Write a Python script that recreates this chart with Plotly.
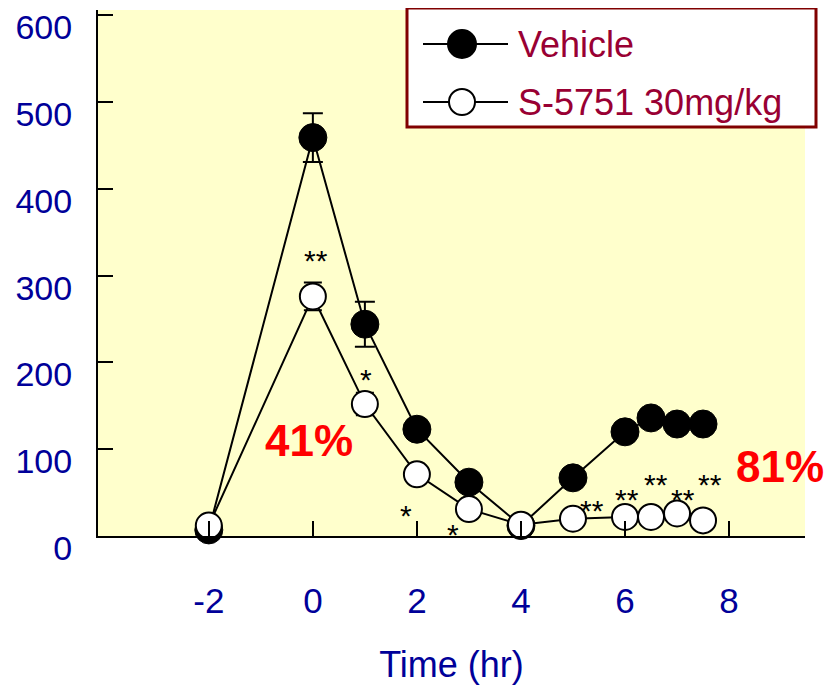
import plotly.graph_objects as go

# ---- data ----
time_hr = [-2, 0, 1, 2, 3, 4, 5, 6, 6.5, 7, 7.5]
vehicle = [7, 459, 244, 123, 62, 12, 67, 120, 136, 129, 129]
vehicle_err = [4, 28, 26, 8, 8, 4, 8, 8, 8, 8, 8]
s5751 = [12, 276, 152, 71, 31, 13, 20, 22, 22, 26, 18]
s5751_err = [3, 16, 13, 6, 5, 3, 4, 4, 4, 4, 4]

star_x = [0.06, 1.02, 1.79, 2.69, 5.37, 6.04, 6.6, 7.12, 7.63]
star_y = [326, 188, 32, 10, 37, 50, 67, 50, 67]
star_txt = ['**', '*', '*', '*', '**', '**', '**', '**', '**']

pct_x = [-0.08, 8.98]
pct_y = [110, 80]
pct_txt = ['41%', '81%']

xticks = [-2, 0, 2, 4, 6, 8]
yticks = [0, 100, 200, 300, 400, 500, 600]

FONT = 'Arial, Liberation Sans, sans-serif'
BLUE = '#000099'
MAROON = '#990033'

# page body has an 8px margin, so the figure is a bit smaller than the window
W, H = 825, 679
ML, MR, MT, MB = 90, 28, 2, 151


def px2paper(px, py):
    # px, py measured on the 833x687 screenshot
    px, py = px - 8, py - 8
    return (px - ML) / (W - ML - MR), (H - MB - py) / (H - MT - MB)


fig = go.Figure()

fig.add_trace(go.Scatter(
    x=time_hr, y=vehicle, name='Vehicle', mode='lines+markers',
    line=dict(color='black', width=2),
    marker=dict(size=28, color='black', line=dict(color='black', width=1)),
    error_y=dict(type='data', array=vehicle_err, color='black', thickness=2, width=10),
    cliponaxis=False, showlegend=False,
))
fig.add_trace(go.Scatter(
    x=time_hr, y=s5751, name='S-5751 30mg/kg', mode='lines+markers',
    line=dict(color='black', width=2),
    marker=dict(size=26, color='white', line=dict(color='black', width=2)),
    error_y=dict(type='data', array=s5751_err, color='black', thickness=2, width=9),
    cliponaxis=False, showlegend=False,
))

# significance stars
for x, y, t in zip(star_x, star_y, star_txt):
    fig.add_annotation(x=x, y=y, text=t, showarrow=False, yshift=-7,
                       font=dict(family=FONT, size=30, color='black'))

# inhibition percentages
for x, y, t in zip(pct_x, pct_y, pct_txt):
    fig.add_annotation(x=x, y=y, text='<b>%s</b>' % t, showarrow=False,
                       font=dict(family=FONT, size=44, color='#ff0000'))

# ---- hand-made legend (plotly caps legend marker size) ----
bx0, by0 = px2paper(407, 127)
bx1, by1 = px2paper(816, 8)
fig.add_shape(type='rect', xref='paper', yref='paper', x0=bx0, y0=by0, x1=bx1, y1=by1,
              line=dict(color='#800000', width=3), fillcolor='white', layer='above')
legend_rows = [('Vehicle', 44, 'black'), ('S-5751 30mg/kg', 102, 'white')]
for label, py, fill in legend_rows:
    lx0, ly = px2paper(423, py)
    lx1, _ = px2paper(508, py)
    mx, _ = px2paper(462, py)
    tx, _ = px2paper(516, py)
    fig.add_shape(type='line', xref='paper', yref='paper', x0=lx0, x1=lx1, y0=ly, y1=ly,
                  line=dict(color='black', width=2), layer='above')
    r = 14 if fill == 'black' else 13
    fig.add_shape(type='circle', xref='paper', yref='paper', xsizemode='pixel', ysizemode='pixel',
                  xanchor=mx, yanchor=ly, x0=-r, x1=r, y0=-r, y1=r,
                  fillcolor=fill, line=dict(color='black', width=2), layer='above')
    fig.add_annotation(xref='paper', yref='paper', x=tx, y=ly, xanchor='left', yanchor='middle',
                       text=label, showarrow=False,
                       font=dict(family=FONT, size=36, color=MAROON))

fig.update_layout(
    width=W, height=H,
    margin=dict(l=ML, r=MR, t=MT, b=MB, autoexpand=False),
    paper_bgcolor='white', plot_bgcolor='#ffffcc',
    font=dict(family=FONT, color=BLUE),
    showlegend=False,
)
fig.update_xaxes(
    range=[-4.13, 9.46], tickvals=xticks, ticktext=[str(v) for v in xticks],
    showgrid=False, zeroline=False,
    showline=True, linecolor='black', linewidth=2,
    ticks='inside', ticklen=15, tickwidth=2, tickcolor='black',
    tickfont=dict(family=FONT, size=35, color=BLUE), ticklabelstandoff=33,
    title=dict(text='Time (hr)', font=dict(family=FONT, size=36, color=BLUE), standoff=33),
)
fig.update_yaxes(
    range=[0, 606], tickvals=yticks,
    showgrid=False, zeroline=False,
    showline=True, linecolor='black', linewidth=2,
    ticks='inside', ticklen=15, tickwidth=2, tickcolor='black',
    tickfont=dict(family=FONT, size=34, color=BLUE), ticklabelstandoff=17,
    ticklabelshift=12, ticklabeloverflow='allow',
)

fig.write_html('out.html')
